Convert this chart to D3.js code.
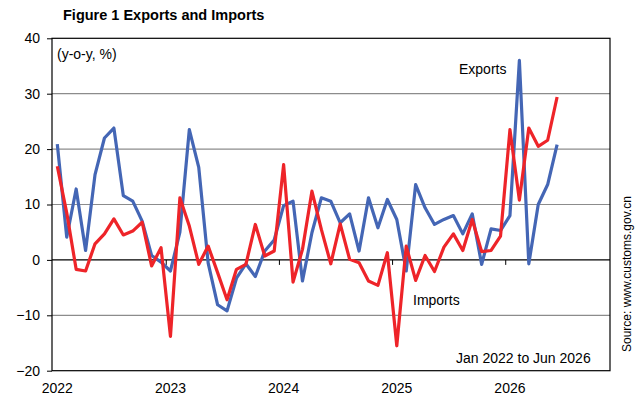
<!DOCTYPE html>
<meta charset="utf-8">
<script src="https://d3js.org/d3.v7.min.js"></script>
<style>
    body { margin: 0; background: #fff; }
    text { font-family: "Liberation Sans", Arial, sans-serif; fill: #000; }
</style>
<body>
<script>
    // y-o-y growth, %, Jan 2022 .. Jun 2026
    var exportsYoY = [20.9, 4.1, 12.8, 1.7, 15.4, 22.0, 23.8, 11.6, 10.6, 7.0, 0.8, -0.4,
        -2.0, 5.0, 23.5, 16.7, -0.6, -8.1, -9.2, -3.3, -0.7, -3.0, 1.6, 3.6,
        9.8, 10.6, -3.8, 4.9, 11.2, 10.6, 6.7, 8.3, 1.6, 11.2, 5.8, 10.9,
        7.3, -2.0, 13.6, 9.4, 6.4, 7.3, 8.0, 4.7, 8.3, -0.8, 5.6, 5.3,
        8.0, 36.0, -0.7, 10.0, 13.6, 20.8];
    var importsYoY = [16.9, 8.5, -1.7, -2.0, 2.9, 4.7, 7.4, 4.5, 5.2, 6.8, -1.1, 2.2,
        -13.8, 11.2, 6.1, -0.8, 2.5, -2.3, -7.2, -1.7, -0.8, 6.4, 0.7, 1.6,
        17.2, -4.0, 1.9, 12.4, 5.5, -0.7, 6.5, 0.1, -0.5, -3.8, -4.6, 1.3,
        -15.5, 2.5, -3.7, 0.8, -2.1, 2.3, 4.7, 1.7, 7.3, 1.5, 1.7, 4.3,
        23.5, 10.8, 23.8, 20.5, 21.6, 29.4];
    var years = ["2022", "2023", "2024", "2025", "2026"];
    var yTicks = [40, 30, 20, 10, 0, -10, -20];
    var gridTicks = [30, 20, 10, -10];

    var width = 639, height = 410;
    var plot = { left: 52, right: 610, top: 38.3, bottom: 370.7 };

    var svg = d3.select("body").append("svg")
        .attr("width", width)
        .attr("height", height);

    var x = d3.scaleLinear()
        .domain([0, exportsYoY.length - 1])
        .range([57.3, 557.1]);
    var y = d3.scaleLinear()
        .domain([-20, 40])
        .range([plot.bottom, plot.top]);

    // title
    svg.append("text")
        .attr("x", 63)
        .attr("y", 20)
        .style("font-size", "14.5px")
        .style("font-weight", "bold")
        .text("Figure 1 Exports and Imports");

    //gridlines
    svg.append("g").selectAll("line")
        .data(gridTicks)
        .enter().append("line")
        .attr("x1", plot.left)
        .attr("x2", plot.right)
        .attr("y1", d => y(d))
        .attr("y2", d => y(d))
        .attr("stroke", "#8c8c8c")
        .attr("stroke-width", 1.2);

    // zero line + month ticks (between Dec and Jan)
    var xAxis = svg.append("g")
        .attr("transform", "translate(0," + y(0) + ")")
        .call(d3.axisBottom(x)
            .tickValues(years.slice(1).map((d, i) => 12 * (i + 1) - 0.5))
            .tickFormat("")
            .tickSize(5));
    xAxis.select(".domain").remove();
    xAxis.selectAll(".tick line").attr("stroke", "#000");
    svg.append("line")
        .attr("x1", plot.left)
        .attr("x2", plot.right)
        .attr("y1", y(0))
        .attr("y2", y(0))
        .attr("stroke", "#000")
        .attr("stroke-width", 1.2);

    // frame
    svg.append("rect")
        .attr("x", plot.left)
        .attr("y", plot.top)
        .attr("width", plot.right - plot.left)
        .attr("height", plot.bottom - plot.top)
        .attr("fill", "none")
        .attr("stroke", "#000")
        .attr("stroke-width", 1.2);

    // y axis
    var yAxis = svg.append("g")
        .attr("transform", "translate(" + plot.left + ",0)")
        .call(d3.axisLeft(y)
            .tickValues(yTicks)
            .tickSize(5)
            .tickPadding(7));
    yAxis.select(".domain").remove();
    yAxis.selectAll(".tick line").attr("stroke", "#000");
    yAxis.selectAll(".tick text")
        .style("font-size", "14px")
        .style("font-family", "'Liberation Sans', Arial, sans-serif")
        .attr("fill", "#000");

    // year labels
    svg.append("g").selectAll("text")
        .data(years)
        .enter().append("text")
        .attr("x", (d, i) => x(12 * i))
        .attr("y", 393)
        .attr("text-anchor", "middle")
        .style("font-size", "14px")
        .text(d => d);

    // series
    var line = d3.line()
        .x((d, i) => x(i))
        .y(d => y(d));

    svg.append("path")
        .datum(exportsYoY)
        .attr("d", line)
        .attr("fill", "none")
        .attr("stroke", "#4466b5")
        .attr("stroke-width", 3.2)
        .attr("stroke-linejoin", "round");

    svg.append("path")
        .datum(importsYoY)
        .attr("d", line)
        .attr("fill", "none")
        .attr("stroke", "#ee2429")
        .attr("stroke-width", 3.2)
        .attr("stroke-linejoin", "round");

    // labels
    svg.append("text")
        .attr("x", 57)
        .attr("y", 59)
        .style("font-size", "14px")
        .text("(y-o-y, %)");

    svg.append("text")
        .attr("x", 459)
        .attr("y", 73.5)
        .style("font-size", "14px")
        .text("Exports");

    svg.append("text")
        .attr("x", 413)
        .attr("y", 305)
        .style("font-size", "14px")
        .text("Imports");

    svg.append("text")
        .attr("x", 456)
        .attr("y", 362.5)
        .style("font-size", "14px")
        .text("Jan 2022 to Jun 2026");

    svg.append("text")
        .attr("transform", "translate(631,352) rotate(-90)")
        .style("font-size", "12px")
        .text("Source: www.customs.gov.cn");
</script>
</body>
